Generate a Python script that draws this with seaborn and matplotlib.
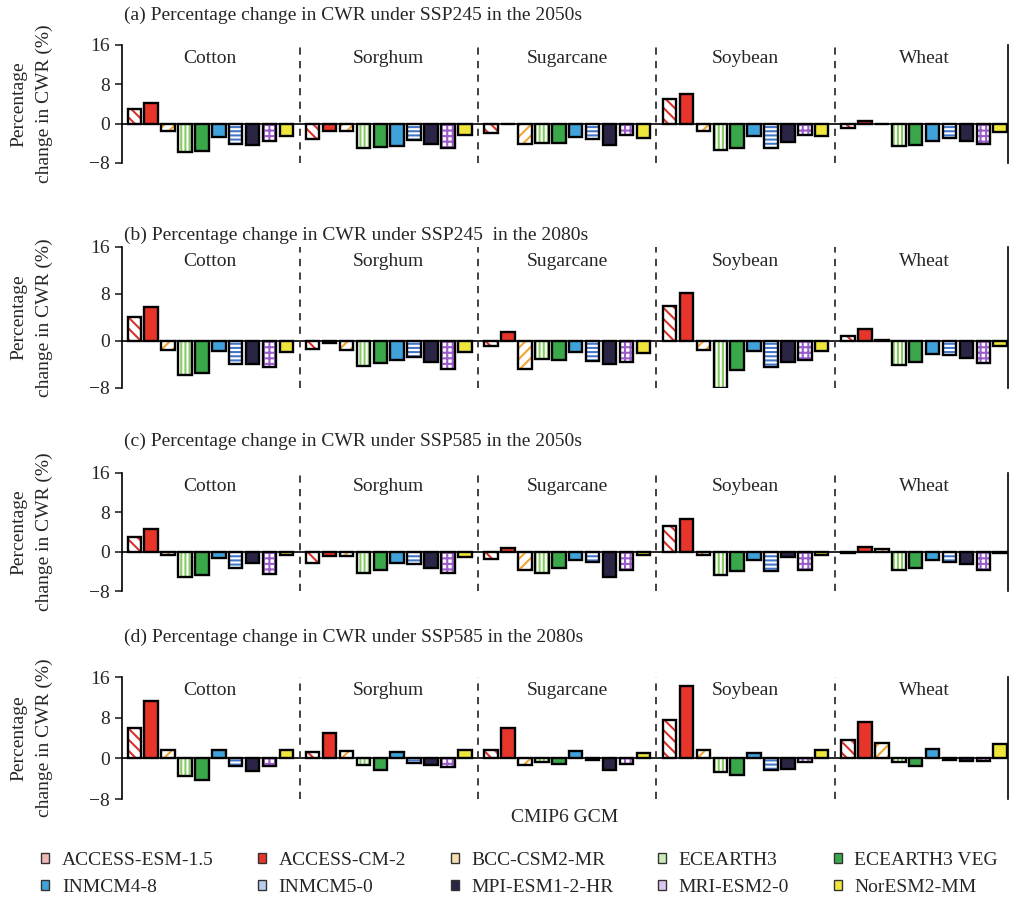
import pandas as pd
import matplotlib
matplotlib.use('Agg')
import matplotlib.pyplot as plt
from matplotlib.colors import to_hex
from matplotlib.patches import Rectangle, Patch
import seaborn as sns

crops = ['Cotton', 'Sorghum', 'Sugarcane', 'Soybean', 'Wheat']
models = ['ACCESS-ESM-1.5', 'ACCESS-CM-2', 'BCC-CSM2-MR', 'ECEARTH3', 'ECEARTH3 VEG',
          'INMCM4-8', 'INMCM5-0', 'MPI-ESM1-2-HR', 'MRI-ESM2-0', 'NorESM2-MM']

# percentage change in CWR (%), rows = crops, columns = GCMs
ssp245_2050s = [
    [2.9, 4.1, -1.5, -5.8, -5.6, -2.8, -4.2, -4.3, -3.6, -2.5],
    [-3.1, -1.4, -1.4, -4.9, -4.7, -4.5, -3.4, -4.2, -4.9, -2.3],
    [-1.9, 0.0, -4.1, -4.0, -3.9, -2.7, -3.1, -4.3, -2.4, -2.9],
    [5.1, 6.1, -1.4, -5.4, -5.0, -2.6, -4.9, -3.8, -2.4, -2.5],
    [-0.9, 0.6, 0.0, -4.5, -4.3, -3.6, -2.9, -3.6, -4.1, -1.6],
]
ssp245_2080s = [
    [4.0, 5.8, -1.5, -5.8, -5.5, -1.7, -4.0, -4.0, -4.4, -1.9],
    [-1.3, -0.3, -1.5, -4.2, -3.8, -3.2, -2.8, -3.5, -4.7, -1.8],
    [-0.9, 1.6, -4.8, -3.1, -3.3, -1.8, -3.4, -4.0, -3.5, -2.1],
    [5.9, 8.2, -1.6, -8.0, -5.0, -1.7, -4.5, -3.5, -3.2, -1.7],
    [0.8, 2.1, 0.2, -4.1, -3.5, -2.3, -2.4, -2.9, -3.8, -0.8],
]
ssp585_2050s = [
    [3.0, 4.6, -0.7, -5.2, -4.7, -1.2, -3.3, -2.3, -4.5, -0.7],
    [-2.4, -0.8, -0.8, -4.4, -3.8, -2.4, -2.5, -3.3, -4.4, -1.0],
    [-1.4, 0.8, -3.8, -4.3, -3.4, -1.6, -2.1, -5.1, -3.8, -0.7],
    [5.2, 6.6, -0.6, -4.7, -4.0, -1.6, -4.0, -1.0, -3.8, -0.6],
    [-0.3, 1.0, 0.6, -3.8, -3.3, -1.6, -2.1, -2.6, -3.7, -0.2],
]
ssp585_2080s = [
    [6.0, 11.3, 1.6, -3.5, -4.3, 1.7, -1.5, -2.5, -1.6, 1.6],
    [1.2, 5.0, 1.5, -1.3, -2.3, 1.2, -0.9, -1.3, -1.7, 1.6],
    [1.6, 5.9, -1.4, -0.8, -1.1, 1.5, -0.3, -2.3, -1.1, 1.1],
    [7.5, 14.2, 1.6, -2.6, -3.3, 1.0, -2.3, -2.1, -0.8, 1.6],
    [3.7, 7.1, 3.0, -0.8, -1.6, 1.9, -0.3, -0.6, -0.5, 2.8],
]
panel_data = [ssp245_2050s, ssp245_2080s, ssp585_2050s, ssp585_2080s]
panel_titles = [
    '(a) Percentage change in CWR under SSP245 in the 2050s',
    '(b) Percentage change in CWR under SSP245  in the 2080s',
    '(c) Percentage change in CWR under SSP585 in the 2050s',
    '(d) Percentage change in CWR under SSP585 in the 2080s',
]

# solid fill or hatch colour per GCM; hatched bars get a white face
model_colors = ['#d8322c', '#e8352b', '#f4a531', '#86cc62', '#3aa84a',
                '#40a2da', '#4176c8', '#2b2545', '#9a5cc8', '#eee63c']
model_hatches = ['\\\\\\', '', '///', '||||', '', '', '----', '', '+++', '']
legend_faces = ['#f0b8b4', '#e8352b', '#f6deb0', '#cdeabb', '#3aa84a',
                '#40a2da', '#b9cdee', '#2b2545', '#dcc6ee', '#eee63c']

sns.set_style('white')
plt.rcParams['font.family'] = ['Liberation Serif', 'DejaVu Serif']
plt.rcParams['hatch.linewidth'] = 1.5

fig = plt.figure(figsize=(10.19, 9.08), dpi=100)

# axes boxes (left, bottom, width, height) in figure fraction
boxes = [
    (0.1197, 0.8205, 0.8695, 0.130),
    (0.1197, 0.5727, 0.8695, 0.1553),
    (0.1197, 0.3491, 0.8695, 0.130),
    (0.1197, 0.1200, 0.8695, 0.1344),
]
title_y = [0.9835, 0.7412, 0.5143, 0.2985]

color_to_model = {to_hex(c): i for i, c in enumerate(model_colors)}

for vals, title, box, ty in zip(panel_data, panel_titles, boxes, title_y):
    ax = fig.add_axes(box)
    df = pd.DataFrame(vals, index=crops, columns=models)
    df = df.reset_index(names='crop').melt(id_vars='crop', var_name='model', value_name='change')
    sns.barplot(data=df, x='crop', y='change', hue='model', order=crops, hue_order=models,
                palette=model_colors, saturation=1, width=0.947, gap=0.2,
                edgecolor='black', linewidth=1.7, legend=False, ax=ax)

    for bar in list(ax.patches):
        idx = color_to_model.get(to_hex(bar.get_facecolor()))
        if idx is None or not model_hatches[idx]:
            continue
        bar.set_facecolor('white')
        bar.set_edgecolor(model_colors[idx])
        bar.set_hatch(model_hatches[idx])
        bar.set_linewidth(0)
        ax.add_patch(Rectangle(bar.get_xy(), bar.get_width(), bar.get_height(),
                               fill=False, edgecolor='black', linewidth=1.7,
                               zorder=bar.get_zorder() + 0.1))

    ax.axhline(0, color='black', linewidth=1.2, zorder=1)
    for xd in [0.5, 1.5, 2.5, 3.5]:
        ax.axvline(xd, color='#333333', linestyle=(0, (4, 3.5)), linewidth=1.3)
    for i, crop in enumerate(crops):
        ax.text(i, 15.0, crop, ha='center', va='top', fontsize=14)

    ax.set_xlim(-0.495, 4.47)
    ax.set_ylim(-8, 16)
    ax.set_yticks([-8, 0, 8, 16])
    ax.set_xticks([])
    ax.set_xlabel('')
    ax.set_ylabel('')
    ax.tick_params(axis='y', left=True, direction='out', length=5, width=1.2, labelsize=14)
    for side in ['top', 'bottom']:
        ax.spines[side].set_visible(False)
    for side in ['left', 'right']:
        ax.spines[side].set_linewidth(1.2)
        ax.spines[side].set_color('black')

    fig.text(0.122, ty, title, ha='left', va='center', fontsize=14)
    fig.text(0.031, box[1] + box[3] / 2, 'Percentage\nchange in CWR (%)', rotation=90,
             ha='center', va='center', fontsize=14, linespacing=1.6, multialignment='center')

fig.text(0.554, 0.100, 'CMIP6 GCM', ha='center', va='center', fontsize=14)

handles = [Patch(facecolor=f, edgecolor='#333333', linewidth=1.0) for f in legend_faces]
order = [0, 5, 1, 6, 2, 7, 3, 8, 4, 9]
fig.legend([handles[i] for i in order], [models[i] for i in order], ncol=5,
           loc='center', bbox_to_anchor=(0.51, 0.0375), frameon=False, fontsize=14,
           handlelength=0.4, handleheight=0.4, handletextpad=0.65,
           columnspacing=2.3, labelspacing=0.5, borderpad=0.2)

fig.savefig('out.png', dpi=100)
